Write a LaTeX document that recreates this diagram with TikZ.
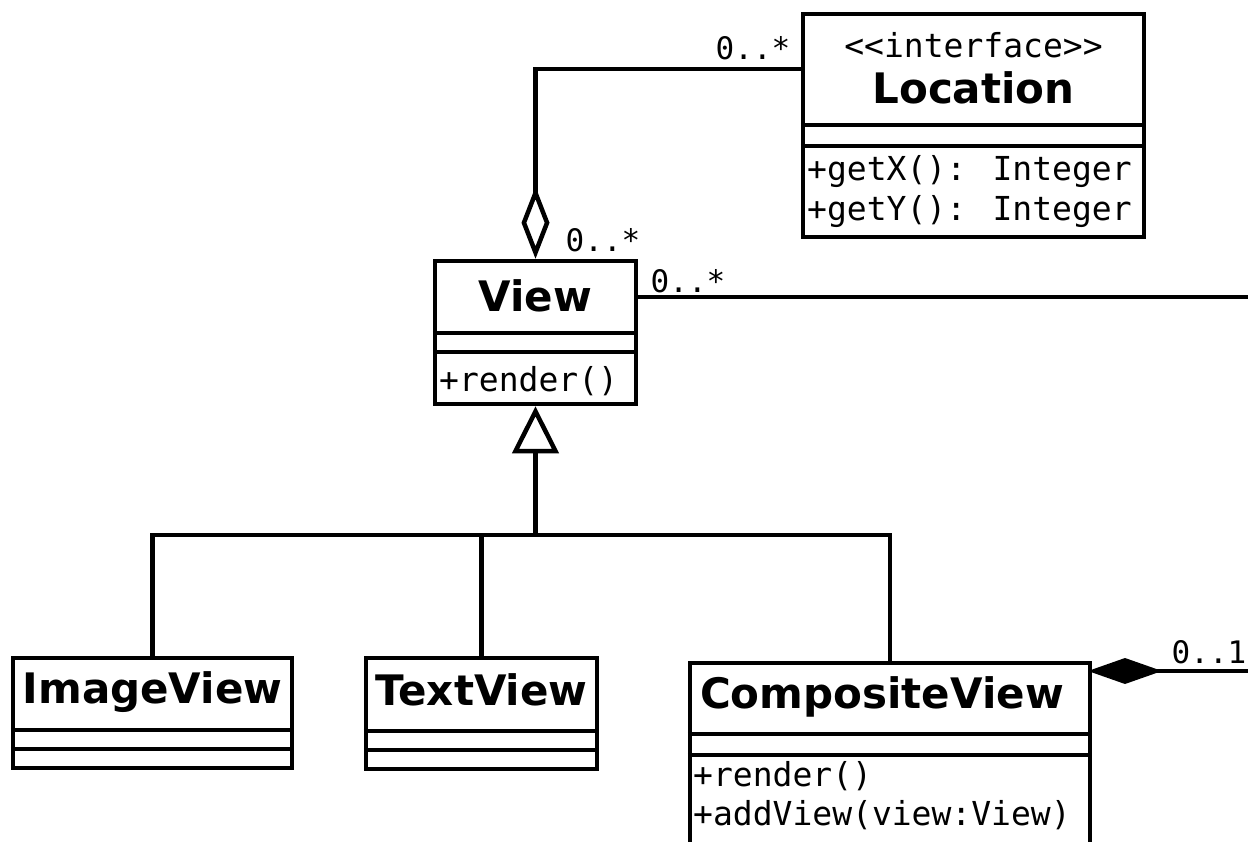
\documentclass[tikz,border=0pt]{standalone}
\usepackage{fontspec}
\usetikzlibrary{arrows.meta}
\newfontfamily\clsfont{DejaVu Sans}
\newfontfamily\monof{DejaVu Sans Mono}
\tikzset{
  cls/.style={draw, line width=4.5pt, fill=white, inner sep=0pt},
  sep/.style={line width=4.5pt},
  conn/.style={line width=4.5pt},
  cname/.style={font=\clsfont\bfseries\fontsize{42}{50}\selectfont, inner sep=0pt},
  stereo/.style={font=\monof\fontsize{33}{40}\selectfont, inner sep=0pt},
  member/.style={font=\monof\fontsize{33}{40}\selectfont, inner sep=0pt, anchor=west},
  mult/.style={font=\monof\fontsize{31}{37}\selectfont, inner sep=0pt},
}
\begin{document}
\begin{tikzpicture}[x=1pt, y=-1pt]
\clip (0,0) rectangle (1248,842);
\fill[white] (0,0) rectangle (1248,842);

% Location
\node[cls, minimum width=341pt, minimum height=223pt] (loc) at (973.5,125.5) {};
\draw[sep] (loc.west |- 0,125) -- (loc.east |- 0,125);
\draw[sep] (loc.west |- 0,146) -- (loc.east |- 0,146);
\node[stereo] (locst) at (973.5,45) {<<interface>>};
\node[cname] (locname) at (973.5,88) {Location};
\node[member] (locm1) at (807,172) {+getX(): Integer};
\node[member] (locm2) at (807,212) {+getY(): Integer};

% View
\node[cls, minimum width=201pt, minimum height=143pt] (view) at (535.5,332.5) {};
\draw[sep] (view.west |- 0,333) -- (view.east |- 0,333);
\draw[sep] (view.west |- 0,352) -- (view.east |- 0,352);
\node[cname] (viewname) at (535.5,296) {View};
\node[member] (viewm1) at (439,381) {+render()};

% ImageView
\node[cls, minimum width=279pt, minimum height=110pt] (img) at (152.5,713) {};
\draw[sep] (img.west |- 0,730) -- (img.east |- 0,730);
\draw[sep] (img.west |- 0,749) -- (img.east |- 0,749);
\node[cname] (imgname) at (152.5,692) {ImageView};

% TextView
\node[cls, minimum width=231pt, minimum height=111pt] (txt) at (481.5,713.5) {};
\draw[sep] (txt.west |- 0,731) -- (txt.east |- 0,731);
\draw[sep] (txt.west |- 0,750) -- (txt.east |- 0,750);
\node[cname] (txtname) at (481.5,690) {TextView};

% CompositeView
\node[cls, minimum width=400pt, minimum height=220pt] (comp) at (890,773) {};
\draw[sep] (comp.west |- 0,734) -- (comp.east |- 0,734);
\draw[sep] (comp.west |- 0,755) -- (comp.east |- 0,755);
\node[cname] (compname) at (882,697) {CompositeView};
\node[member] (compm1) at (693,776) {+render()};
\node[member] (compm2) at (693,815) {+addView(view:View)};

% connectors
\coordinate (bus) at (535.5,535);
\coordinate (rightA) at (1260,297);
\coordinate (rightB) at (1260,671);
\coordinate (compdia) at (1088,671);

\draw[conn, -{Diamond[open, length=72pt, width=28pt, line width=4.5pt]}] (loc.west |- 0,69) -| (view.north);
\draw[conn, -{Triangle[open, length=47pt, width=46pt, line width=4.5pt]}] (bus) -- (view.south);
\draw[conn] (img.north) |- (bus) -| (comp.north);
\draw[conn] (txt.north) -- (txt.north |- bus);
\draw[conn] (view.east |- 0,297) -- (rightA);
\draw[conn, {Diamond[length=74pt, width=26pt]}-] (compdia) -- (rightB);

% multiplicities
\node[mult] (m1) at (753,48) {0..*};
\node[mult] (m2) at (603,240) {0..*};
\node[mult] (m3) at (688,281) {0..*};
\node[mult] (m4) at (1209,652) {0..1};
\end{tikzpicture}
\end{document}
